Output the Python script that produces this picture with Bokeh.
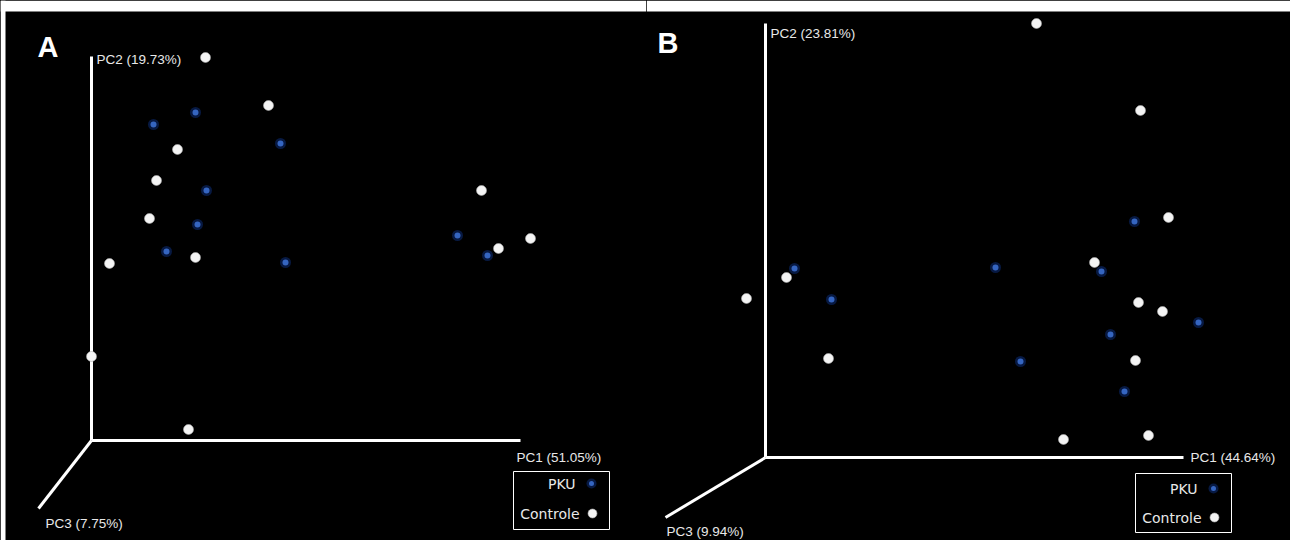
from bokeh.plotting import figure
from bokeh.layouts import row
from bokeh.models import Range1d
from bokeh.core.properties import value
from bokeh.embed import file_html
from bokeh.resources import INLINE

# ---- Panel A: projected PCoA scores (screen-projected units, origin at axes origin)
a_ctrl_x = [114, 177, 86, 65, 58, 104, 18, 0, 97, 390, 407, 439]
a_ctrl_y = [383, 335, 291, 260, 222, 183, 177, 84, 11, 250, 192, 202]
a_pku_x = [62, 104, 189, 115, 106, 75, 194, 366, 396]
a_pku_y = [316, 328, 297, 250, 216, 189, 178, 205, 185]
a_axis_labels = ["PC1 (51.05%)", "PC2 (19.73%)", "PC3 (7.75%)"]

# ---- Panel B
b_ctrl_x = [271, 375, 403, 329, 21, -19, 373, 397, 63, 370, 383, 298]
b_ctrl_y = [434, 347, 240, 195, 180, 159, 155, 146, 99, 97, 22, 18]
b_pku_x = [29, 66, 230, 369, 336, 433, 345, 255, 359]
b_pku_y = [189, 158, 190, 236, 186, 135, 123, 96, 66]
b_axis_labels = ["PC1 (44.64%)", "PC2 (23.81%)", "PC3 (9.94%)"]

groups = ["PKU", "Controle"]

LABEL_FONT = value("Liberation Sans")
LEG_FONT = value("DejaVu Sans")
TXT = "#e8e8e8"


def panel(letter, ctrl_x, ctrl_y, pku_x, pku_y, labels, cfg):
    p = figure(width=cfg["w"], height=540, output_backend="svg", toolbar_location=None,
               x_range=Range1d(*cfg["xr"]), y_range=Range1d(*cfg["yr"]),
               min_border_left=0, min_border_right=0, min_border_bottom=0,
               min_border_top=0)
    p.background_fill_color = "black"
    p.border_fill_color = "black"
    p.outline_line_color = None
    p.axis.visible = False
    p.grid.visible = False

    # white page margins (top strip, left strip)
    x0, x1 = cfg["xr"]
    y0, y1 = cfg["yr"]
    p.quad(left=[x0, x0], right=[x1, x0 + cfg["ml"]], bottom=[y1 - 11, y0], top=[y1, y1],
           fill_color="white", line_color=None)

    # 3D axes
    p1, p2, p3 = cfg["pc1"], cfg["pc2"], cfg["pc3"]
    p.segment(x0=[0, 0, 0], y0=[0, 0, 0], x1=[p1, 0, p3[0]], y1=[0, p2, p3[1]],
              line_color="white", line_width=3)

    # points
    p.scatter(pku_x, pku_y, size=11, fill_color="#0b2a6e", fill_alpha=0.6, line_color=None)
    p.scatter(pku_x, pku_y, size=6, fill_color="#3565c0", line_color=None)
    p.scatter(ctrl_x, ctrl_y, size=10, fill_color="#f4f4f4", line_color="#b0b0b0", line_width=0.6)

    # axis labels
    lx, ly = zip(*cfg["label_pos"])
    p.text(x=list(lx), y=list(ly), text=labels, text_font=LABEL_FONT, text_font_size="13.5px",
           text_color=TXT, text_baseline="middle", text_align="left")

    # panel letter
    p.text(x=[cfg["letter"][0]], y=[cfg["letter"][1]], text=[letter], text_font=value("Liberation Sans"),
           text_font_style="bold", text_font_size="29px", text_color="white",
           text_baseline="middle", text_align="left")

    # legend box
    bx0, bx1, by0, by1 = cfg["box"]
    p.quad(left=[bx0], right=[bx1], top=[by0], bottom=[by1], fill_color=None,
           line_color="white", line_width=1)
    tx, dx, ty = cfg["leg_text_x"], cfg["leg_dot_x"], cfg["leg_y"]
    p.text(x=[tx, tx + 4], y=ty, text=groups, text_font=LEG_FONT, text_font_size="14px",
           text_color=TXT, text_baseline="middle", text_align="right")
    p.scatter([dx], [ty[0]], size=10, fill_color="#0b2a6e", fill_alpha=0.6, line_color=None)
    p.scatter([dx], [ty[0]], size=5, fill_color="#3565c0", line_color=None)
    p.scatter([dx + 1], [ty[1]], size=9, fill_color="#f4f4f4", line_color="#b0b0b0", line_width=0.6)
    return p


cfg_a = dict(w=646, ml=5, xr=(-91, 555), yr=(-100, 440), pc1=429, pc2=384, pc3=(-53, -68),
             label_pos=[(425, -17), (5, 381), (-46, -83)], letter=(-54, 393.5),
             box=(422, 518, -31, -89), leg_text_x=484, leg_dot_x=500, leg_y=[-43, -73])
cfg_b = dict(w=644, ml=0, xr=(-119, 525), yr=(-83, 457), pc1=418, pc2=434, pc3=(-100, -60),
             label_pos=[(425, 0), (5, 424), (-99, -74)], letter=(-108, 414.5),
             box=(370, 466, -16, -75), leg_text_x=432, leg_dot_x=448, leg_y=[-31, -60])

pa = panel("A", a_ctrl_x, a_ctrl_y, a_pku_x, a_pku_y, a_axis_labels, cfg_a)
pb = panel("B", b_ctrl_x, b_ctrl_y, b_pku_x, b_pku_y, b_axis_labels, cfg_b)

layout = row(pa, pb, spacing=0, styles={"background-color": "black"})
open("out.html", "w").write(file_html(layout, INLINE))
